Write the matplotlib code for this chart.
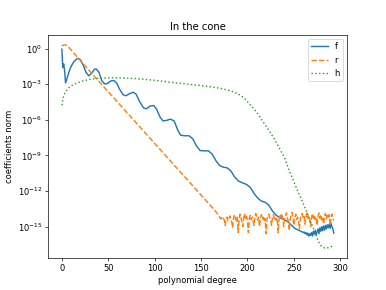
import matplotlib
matplotlib.use("Agg")
import matplotlib.pyplot as plt
from matplotlib.ticker import NullFormatter
import numpy as np

# log10 of the coefficient norms
f_deg = [0, 1, 2, 3, 4, 6, 8, 10, 13, 16, 18, 20, 23, 26, 29, 32, 35, 37, 40, 43, 46, 49,
         53, 56, 59, 62, 66, 69, 73, 77, 80, 84, 88, 91, 95, 99, 102, 106, 109, 113, 117,
         121, 125, 128, 132, 137, 141, 145, 149, 153, 158, 162, 166, 170, 174, 178, 182,
         186, 190, 194, 199, 203, 207, 211, 215, 219, 223, 227, 231, 235, 239, 243, 247,
         251, 255, 259] + list(range(260, 294))
f_log = [-0.05, -1.6, -1.3, -1.9, -2.9, -2.4, -1.9, -1.5, -1.1, -0.88, -0.84, -0.95, -1.4,
         -2.0, -2.3, -2.1, -1.75, -1.72, -2.0, -2.7, -2.98, -2.95, -2.72, -2.7, -2.9, -3.4,
         -3.9, -3.98, -3.8, -3.68, -3.85, -4.5, -5.0, -5.08, -4.85, -4.8, -5.1, -5.8, -6.1,
         -6.05, -5.95, -6.1, -6.9, -7.3, -7.35, -7.35, -7.6, -8.2, -8.6, -8.62, -8.62, -8.9,
         -9.45, -9.86, -10.0, -10.05, -10.3, -10.8, -11.15, -11.3, -11.45, -11.7, -12.2,
         -12.6, -12.85, -12.95, -13.2, -13.7, -14.05, -14.25, -14.4, -14.55, -14.85, -15.15,
         -15.3, -15.45,
         -15.5, -15.45, -15.6, -15.5, -15.7, -15.55, -15.8, -15.6, -15.75, -15.5, -15.8,
         -15.4, -15.65, -15.3, -15.7, -15.45, -15.2, -15.6, -15.1, -15.4, -15.0, -15.35,
         -14.95, -15.3, -14.9, -15.2, -14.85, -15.1, -14.8, -15.15, -14.75, -15.0, -15.2,
         -15.55]

r_deg = [0, 2, 4, 6, 10, 15, 20, 25, 30, 35, 40, 50, 60, 70, 80, 90, 100, 110, 120, 130,
         140, 150, 160, 165, 168] + list(range(169, 294))
r_log = [0.22, 0.29, 0.30, 0.22, -0.12, -0.58, -1.03, -1.47, -1.9, -2.34, -2.77, -3.64,
         -4.51, -5.38, -6.25, -7.12, -7.99, -8.86, -9.73, -10.6, -11.47, -12.34, -13.2,
         -13.65, -13.95,
         -14.05, -14.2, -14.35, -14.25, -14.4, -14.3, -14.45, -14.9, -14.3, -14.2, -14.5,
         -14.35, -14.1, -14.4, -14.6, -15.1, -14.3, -14.0, -14.25, -14.5, -14.2, -15.5,
         -14.4, -13.95, -14.3, -14.6, -15.0, -14.2, -13.9, -14.4, -14.15, -14.6, -15.5,
         -14.3, -14.05, -14.4, -14.2, -14.5, -14.9, -14.1, -13.9, -14.3, -14.45, -14.2,
         -15.0, -14.3, -14.0, -14.35, -14.2, -14.6, -14.3, -15.6, -14.4, -14.1, -13.95,
         -14.3, -14.5, -14.9, -14.2, -14.0, -14.35, -14.2, -14.5, -14.3, -15.5, -14.4,
         -14.0, -14.2, -13.9, -14.4, -15.0, -14.3, -14.1, -13.85, -14.3, -14.5, -15.3,
         -14.4, -14.0, -13.8, -14.2, -14.9, -14.3, -13.95, -14.4, -14.2, -14.6, -15.2,
         -14.3, -14.0, -13.9, -14.3, -14.15, -14.8, -14.2, -13.85, -14.3, -14.1, -14.4,
         -15.0, -14.2, -13.9, -14.3, -14.05, -14.4, -14.2, -14.9, -14.1, -13.85, -14.3,
         -14.0, -14.45, -14.2, -14.8, -14.1, -13.9, -14.35, -14.05, -14.3, -14.0, -14.9,
         -14.2, -13.95, -14.3, -14.5]

h_deg = [0, 1, 2, 3, 5, 7.5, 10, 15, 22, 30, 40, 52, 65, 77, 90, 105, 120, 135, 150, 163,
         170, 181, 186, 193, 198, 202, 206, 210, 217, 222, 228, 235, 240, 245, 252.5, 258,
         263, 268, 272, 276, 279, 283, 287, 290, 293]
h_log = [-4.78, -4.3, -4.0, -3.8, -3.55, -3.31, -3.15, -2.95, -2.75, -2.6, -2.5, -2.47,
         -2.48, -2.52, -2.6, -2.72, -2.87, -3.0, -3.12, -3.26, -3.34, -3.54, -3.68, -3.96,
         -4.3, -4.66, -5.0, -5.37, -6.2, -6.77, -7.5, -8.5, -9.2, -10.3, -11.7, -12.7,
         -13.6, -14.6, -15.3, -16.2, -16.6, -16.8, -16.78, -16.7, -16.6]

assert len(f_deg) == len(f_log) and len(r_deg) == len(r_log) and len(h_deg) == len(h_log)

dpi = 60.35
fig, ax = plt.subplots(figsize=(386 / dpi, 290 / dpi), dpi=dpi)
ax.semilogy(f_deg, 10.0 ** np.array(f_log), "-", lw=1.7, label="f")
ax.semilogy(r_deg, 10.0 ** np.array(r_log), "--", lw=1.7, label="r")
ax.semilogy(h_deg, 10.0 ** np.array(h_log), ":", lw=1.7, label="h")
ax.yaxis.set_minor_formatter(NullFormatter())
ax.set_title("In the cone")
ax.set_xlabel("polynomial degree")
ax.set_ylabel("coefficients norm")
ax.legend(loc="upper right")
fig.savefig("out.png", dpi=dpi)
